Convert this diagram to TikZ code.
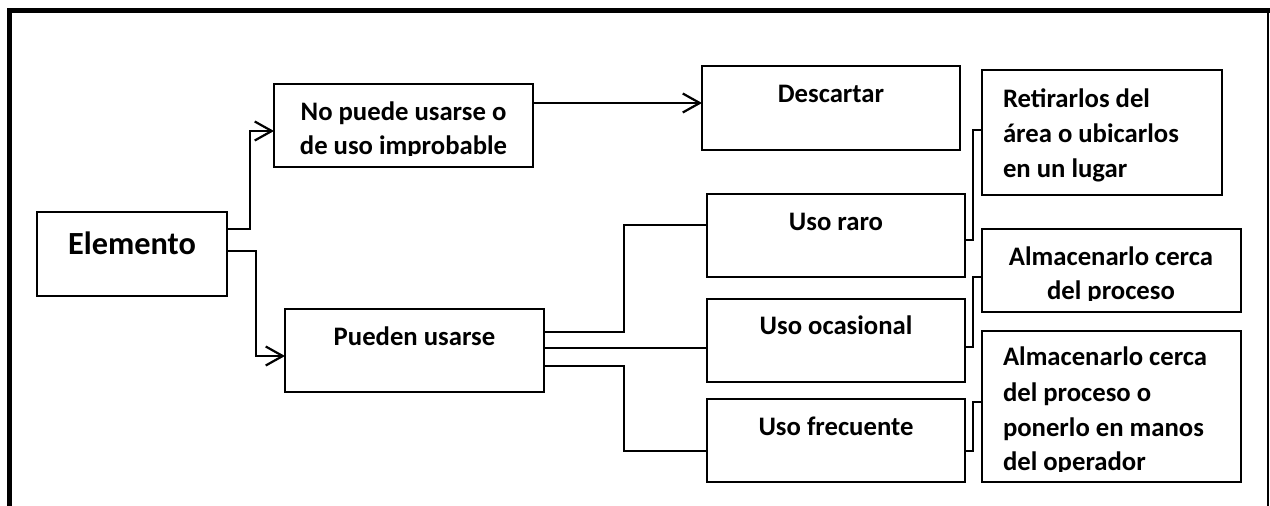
\documentclass[tikz,border=0pt]{standalone}
\usepackage{fontspec}
\setmainfont{Carlito}
\usetikzlibrary{arrows.meta}
\begin{document}
\begin{tikzpicture}[x=1pt,y=-1pt,
  box/.style={draw=black,line width=2pt,inner sep=0pt,outer sep=0pt},
  conn/.style={draw=black,line width=2.2pt},
  arr/.style={-{Straight Barb[length=17pt,width=19pt,line width=2.2pt]}},
  txt/.style={inner sep=0pt,outer sep=0pt,anchor=base,font=\fontsize{26.7}{35}\selectfont\bfseries},
  txtl/.style={txt,anchor=base west},
  frame/.style={draw=black,line cap=rect}]
\useasboundingbox (0,0) rectangle (1270,506);
% frame
\draw[frame,line width=5pt] (9.5,520) -- (9.5,10) -- (1268,10);
\draw[frame,line width=2pt] (1268,10) -- (1268,520);
% boxes
\node[box,minimum width=190pt,minimum height=84pt] (elem) at (132,254) {};
\node[box,minimum width=259pt,minimum height=83pt] (nop) at (403.5,125.5) {};
\node[box,minimum width=258pt,minimum height=84pt] (desc) at (831,108) {};
\node[box,minimum width=240pt,minimum height=125pt] (ret) at (1102,132.5) {};
\node[box,minimum width=258pt,minimum height=83pt] (raro) at (836,235.5) {};
\node[box,minimum width=259pt,minimum height=83pt] (almA) at (1111.5,270.5) {};
\node[box,minimum width=258pt,minimum height=83pt] (ocas) at (836,340.5) {};
\node[box,minimum width=259pt,minimum height=151pt] (almB) at (1111.5,406.5) {};
\node[box,minimum width=258pt,minimum height=83pt] (frec) at (836,440.5) {};
\node[box,minimum width=259pt,minimum height=83pt] (pued) at (414.5,350.5) {};
% texts
\node[txt,font=\fontsize{32.3}{37}\selectfont\bfseries] (tElem) at (132,254) {Elemento};
\node[txt] (tNop1) at (403.5,120) {No puede usarse o};
\begin{scope}
\clip (274,84) rectangle (533,155.5);
\node[txt] (tNop2) at (403.5,154) {de uso improbable};
\end{scope}
\node[txt] (tDesc) at (831,102) {Descartar};
\node[txtl] (tRet1) at (1003,107) {Retirarlos del};
\node[txtl] (tRet2) at (1003,142) {área o ubicarlos};
\node[txtl] (tRet3) at (1003,177) {en un lugar};
\node[txt] (tRaro) at (836,230) {Uso raro};
\node[txt] (tAlmA1) at (1111,265) {Almacenarlo cerca};
\begin{scope}
\clip (982,229) rectangle (1241,300.5);
\node[txt] (tAlmA2) at (1111,299.5) {del proceso};
\end{scope}
\node[txt] (tOcas) at (836,334) {Uso ocasional};
\node[txtl] (tAlmB1) at (1003,365.5) {Almacenarlo cerca};
\node[txtl] (tAlmB2) at (1003,401) {del proceso o};
\node[txtl] (tAlmB3) at (1003,436) {ponerlo en manos};
\begin{scope}
\clip (982,331) rectangle (1241,471.5);
\node[txtl] (tAlmB4) at (1003,470.5) {del operador};
\end{scope}
\node[txt] (tFrec) at (836,435) {Uso frecuente};
\node[txt] (tPued) at (414.5,345) {Pueden usarse};
% connectors
\draw[conn,arr] ([yshift=25pt]elem.east) -- ++(23,0) |- ([yshift=-5.5pt]nop.west);
\draw[conn,arr] ([yshift=3pt]elem.east) -- ++(29,0) |- ([yshift=-5.5pt]pued.west);
\draw[conn,arr] ([yshift=22.5pt]nop.east) coordinate (np1) -- (np1 -| desc.west);
\draw[conn] ([yshift=18.5pt]pued.east) -- ++(80,0) |- ([yshift=10.5pt]raro.west);
\draw[conn] ([yshift=2.5pt]pued.east) coordinate (p2) -- (p2 -| ocas.west);
\draw[conn] ([yshift=-15.5pt]pued.east) -- ++(80,0) |- ([yshift=-10.5pt]frec.west);
\draw[conn] ([yshift=-4.5pt]raro.east) -- ++(8,0) |- ([yshift=2.5pt]ret.west);
\draw[conn] ([yshift=-6.5pt]ocas.east) -- ++(8,0) |- ([yshift=-6.5pt]almA.west);
\draw[conn] ([yshift=-10.5pt]frec.east) -- ++(8,0) |- ([yshift=4.5pt]almB.west);
\end{tikzpicture}
\end{document}
